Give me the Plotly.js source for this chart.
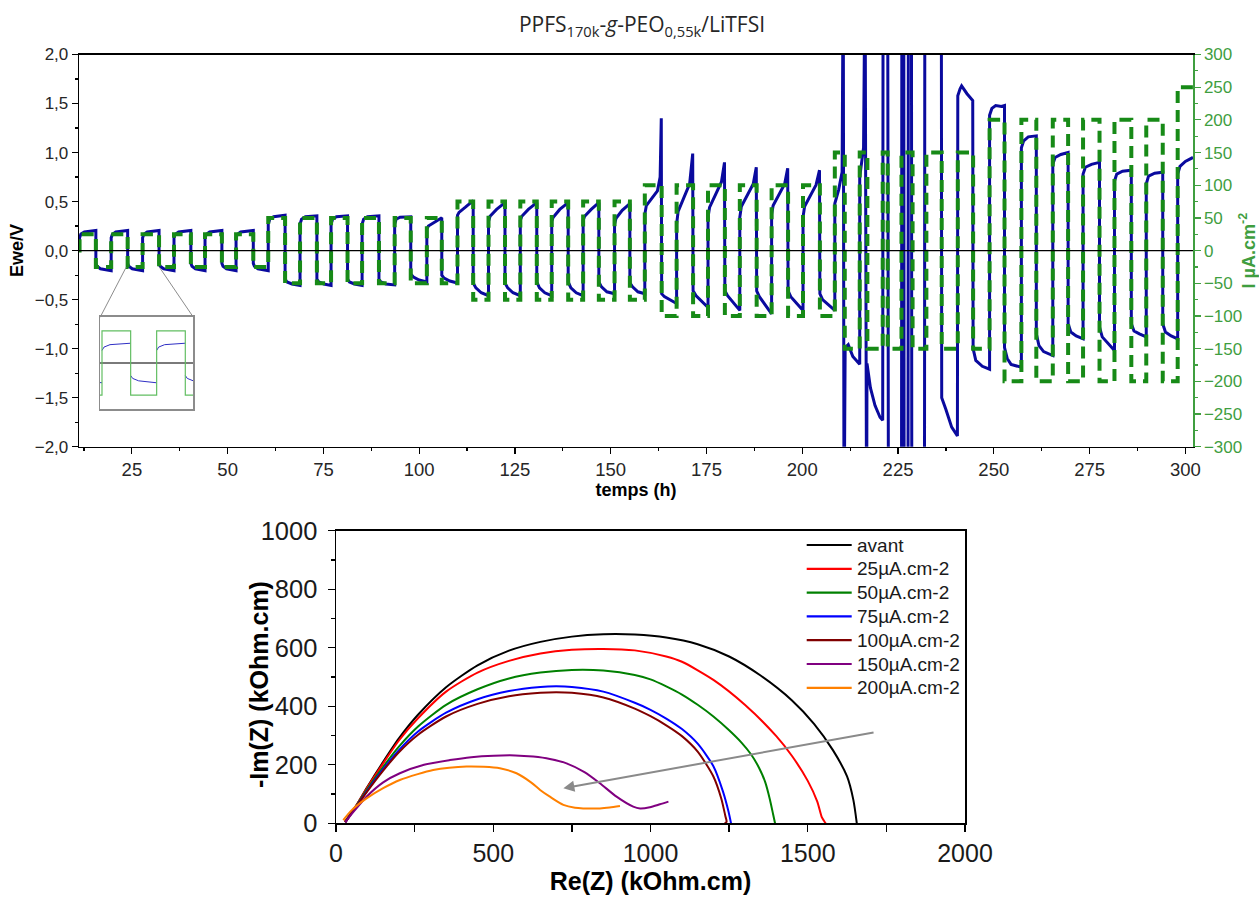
<!DOCTYPE html>
<html><head><meta charset="utf-8">
<script src="https://cdn.plot.ly/plotly-3.0.1.min.js"></script>
<style>html,body{margin:0;padding:0;background:#fff}</style>
</head><body><div id="chart" style="width:1259px;height:897px"></div>
<script>
// ---------- Top chart: Ewe (V) vs time (h), blue line ----------
const ewe25 = [
[11.3,0.0],[11.35,0.13],[11.7,0.17],[12.6,0.19],[15.6,0.205],
[15.6,-0.13],[15.9,-0.16],[16.8,-0.185],[19.6,-0.205],
[19.6,0.13],[19.9,0.165],[20.8,0.19],[23.9,0.205],
[23.9,-0.13],[24.2,-0.16],[25.1,-0.185],[27.8,-0.205],
[27.8,0.13],[28.1,0.165],[29.0,0.19],[32.1,0.205],
[32.1,-0.13],[32.4,-0.16],[33.3,-0.185],[36.0,-0.205],
[36.0,0.13],[36.3,0.165],[37.2,0.19],[40.4,0.205],
[40.4,-0.13],[40.7,-0.16],[41.6,-0.185],[44.1,-0.205],
[44.1,0.13],[44.4,0.165],[45.3,0.19],[48.5,0.205],
[48.5,-0.13],[48.8,-0.16],[49.7,-0.185],[52.2,-0.205],
[52.2,0.13],[52.5,0.165],[53.4,0.19],[56.7,0.205],
[56.7,-0.13],[57.0,-0.16],[57.9,-0.185],[60.6,-0.205]
];
const ewe50 = [
[60.6,0.27],[61.0,0.32],[62.0,0.345],[65.0,0.36],
[65.0,-0.29],[65.5,-0.32],[66.8,-0.34],[68.9,-0.355],
[68.9,0.27],[69.3,0.32],[70.3,0.345],[73.3,0.355],
[73.3,-0.29],[73.8,-0.32],[75.1,-0.34],[77.0,-0.355],
[77.0,0.27],[77.4,0.32],[78.4,0.345],[81.3,0.355],
[81.3,-0.29],[81.8,-0.32],[83.1,-0.34],[85.1,-0.355],
[85.1,0.27],[85.5,0.32],[86.5,0.345],[89.5,0.355],
[89.5,-0.29],[90.0,-0.32],[91.3,-0.34],[93.6,-0.35],
[93.6,0.27],[94.0,0.32],[95.0,0.34],[97.8,0.345],
[97.8,-0.24],[98.5,-0.27],[100.0,-0.30],[102.0,-0.32],
[102.0,0.22],[102.4,0.25],[104.0,0.29],[105.9,0.335],
[105.9,-0.25],[106.5,-0.28],[108.0,-0.31],[110.0,-0.33]
];
const ewe75 = [
[110.0,0.36],[110.4,0.39],[112.0,0.44],[114.1,0.51],
[114.1,-0.33],[114.8,-0.38],[116.2,-0.43],[118.1,-0.46],
[118.1,0.30],[118.5,0.35],[120.2,0.42],[122.4,0.49],
[122.4,-0.33],[123.1,-0.38],[124.5,-0.43],[126.4,-0.46],
[126.4,0.31],[126.8,0.35],[128.5,0.42],[130.7,0.49],
[130.7,-0.32],[131.4,-0.38],[132.8,-0.43],[134.6,-0.46],
[134.6,0.30],[135.0,0.34],[136.7,0.42],[138.9,0.49],
[138.9,-0.32],[139.6,-0.38],[141.0,-0.43],[142.8,-0.46],
[142.8,0.31],[143.2,0.35],[144.9,0.42],[146.9,0.49],
[146.9,-0.32],[147.6,-0.37],[149.0,-0.42],[151.0,-0.44],
[151.0,0.27],[151.4,0.33],[153.0,0.41],[155.0,0.48],
[155.0,-0.33],[155.7,-0.37],[157.1,-0.42],[158.9,-0.44]
];
const ewe100 = [
[158.9,0.37],[159.3,0.46],[162.2,0.61],[162.9,0.75],[163.2,1.35],
[163.3,-0.44],[164.0,-0.47],[167.2,-0.54],
[167.2,0.27],[167.6,0.40],[170.6,0.68],[171.4,0.99],
[171.5,-0.41],[172.3,-0.46],[175.4,-0.58],
[175.4,0.34],[175.8,0.44],[178.9,0.70],[179.7,0.90],
[179.8,-0.41],[180.5,-0.46],[183.7,-0.61],
[183.7,0.34],[184.1,0.45],[187.2,0.68],[188.0,0.85],
[188.1,-0.41],[188.8,-0.47],[192.0,-0.645],
[192.0,0.37],[192.4,0.46],[195.4,0.68],[196.2,0.84],
[196.3,-0.41],[197.0,-0.47],[200.2,-0.61],
[200.2,0.34],[200.6,0.45],[203.6,0.67],[204.5,0.82],
[204.6,-0.44],[205.3,-0.50],[208.5,-0.61]
];
const ewe150 = [
[208.5,0.48],[209.5,0.62],[210.4,0.80],[210.7,3],[210.9,-3],[211.2,-0.99],[212.0,-0.96],[213.2,-1.08],[215.0,-1.16],
[215.0,0.75],[216.0,1.05],[216.4,3],[216.8,-3],[216.9,-1.15],[217.8,-1.40],[219.0,-1.58],[220.3,-1.70],[221.0,-1.73],
[221.1,3],[222.3,3],[222.5,-3],[225.9,-3],[226.0,3],[226.5,3],[226.6,-3],[227.6,-3],[227.7,3],[228.5,3],[228.6,-3],
[231.9,-3],[232.0,3],[236.3,3],[236.4,-1.50],[237.5,-1.62],[239.0,-1.80],[240.5,-1.89],
[240.6,1.58],[241.2,1.65],[241.6,1.68],[243.0,1.60],[244.5,1.53],
[244.6,-1.0],[245.3,-1.12],[247.0,-1.18],[248.9,-1.21]
];
const ewe200 = [
[248.9,1.38],[249.5,1.45],[250.5,1.48],[252.0,1.47],[252.8,1.48],
[252.8,-0.99],[253.5,-1.10],[254.5,-1.16],[257.2,-1.19],
[257.2,1.05],[257.8,1.12],[259.0,1.16],[261.1,1.17],
[261.1,-0.85],[261.8,-0.97],[263.0,-1.03],[265.4,-1.07],
[265.4,0.88],[266.0,0.95],[267.5,0.98],[269.4,1.00],
[269.4,-0.745],[270.1,-0.83],[271.5,-0.87],[273.3,-0.90],
[273.3,0.78],[273.9,0.85],[275.5,0.88],[277.6,0.90],
[277.6,-0.78],[278.3,-0.88],[279.8,-0.95],[281.5,-1.02],
[281.5,0.71],[282.1,0.78],[283.6,0.81],[285.9,0.82],
[285.9,-0.745],[286.6,-0.82],[288.0,-0.85],[289.8,-0.88],
[289.8,0.68],[290.4,0.76],[292.0,0.79],[294.1,0.80],
[294.1,-0.745],[294.8,-0.83],[296.3,-0.87],[298.0,-0.90],
[298.0,0.78],[298.6,0.86],[300.0,0.91],[302.0,0.95]
];

// ---------- Top chart: applied current (µA.cm-2), green steps ----------
const curT = [11.2,11.35,15.6,19.6,23.9,27.8,32.1,36.0,40.4,44.1,48.5,52.2,56.7,
  60.6,65.0,68.9,73.3,77.0,81.3,85.1,89.5,93.6,97.8,102.0,105.9,
  110.0,114.1,118.1,122.4,126.4,130.7,134.6,138.9,142.8,146.9,151.0,155.0,
  158.9,163.3,167.2,171.5,175.4,179.8,183.7,188.1,192.0,196.3,200.2,204.6,
  208.5,211.1,215.0,217.0,221.0,222.3,225.9,228.8,232.4,236.4,240.6,244.6,
  248.9,252.8,257.2,261.1,265.4,269.4,273.3,277.6,281.5,285.9,289.8,294.1,
  298.0,302.0];
const curI = [0,25,-25,25,-25,25,-25,25,-25,25,-25,25,-25,
  50,-50,50,-50,50,-50,50,-50,50,-50,50,-50,
  75,-75,75,-75,75,-75,75,-75,75,-75,75,-75,
  100,-100,100,-100,100,-100,100,-100,100,-100,100,-100,
  150,-150,150,-150,150,-150,150,-150,150,-150,150,-150,
  200,-200,200,-200,200,-200,200,-200,200,-200,200,-200,
  250,250];

// ---------- Bottom chart: Nyquist plots ----------
const seriesNames = ['avant','25µA.cm-2','50µA.cm-2','75µA.cm-2','100µA.cm-2','150µA.cm-2','200µA.cm-2'];
const seriesColors = ['#000000','#ff0000','#008000','#0000ff','#800000','#800080','#ff8000'];
const avantX = [28,45,65,100,150,200,260,350,450,550,650,750,850,950,1050,1150,1250,1350,1450,1520,1580,1625,1645,1656];
const avantY = [5,30,62,125,210,290,370,465,540,590,620,638,646,645,635,612,570,505,420,340,250,160,80,0];
const c25X = [28,45,65,100,150,200,260,350,450,550,650,750,850,950,1050,1100,1200,1300,1400,1450,1500,1530,1545,1552,1557];
const c25Y = [5,30,62,123,205,283,358,450,515,555,580,593,596,591,570,552,490,405,298,230,145,75,20,8,0];
const c50X = [30,45,65,100,150,200,260,350,450,550,650,750,850,950,1000,1050,1100,1150,1200,1250,1290,1320,1345,1365,1380,1390,1396];
const c50Y = [5,30,60,118,193,262,330,405,458,495,515,524,522,507,492,468,440,405,365,318,275,235,190,140,80,30,0];
const c75X = [30,45,65,100,150,200,260,350,450,550,650,700,750,850,950,1000,1050,1100,1150,1200,1230,1248,1256];
const c75Y = [3,28,58,113,185,250,313,378,424,452,466,468,466,450,412,388,358,322,272,195,110,40,0];
const c100X = [30,45,65,100,150,200,260,350,450,550,650,700,750,850,950,1000,1050,1100,1150,1200,1225,1238,1242,1236];
const c100Y = [3,28,57,110,180,243,302,365,408,434,446,448,446,430,392,366,335,298,245,160,85,25,5,0];
const c150X = [30,60,97,150,203,280,362,430,502,570,627,680,733,790,839,892,945,967,998,1030,1057];
const c150Y = [5,45,91,140,171,200,216,226,231,232,228,220,205,175,137,91,57,51,55,65,74];
const c200X = [23,50,97,150,203,260,309,360,415,470,521,574,620,649,680,723,760,786,839,870,903];
const c200Y = [11,45,85,120,148,168,182,190,194,193,188,171,140,114,91,63,53,51,51,54,59];

// ---------- build ----------
const ewe = [].concat(ewe25, ewe50, ewe75, ewe100, ewe150, ewe200);
const eweT = ewe.map(p => p[0]);
const eweV = ewe.map(p => p[1]);

// inset: same data, with the vertical jumps left out
const insT = [], insV = [];
for (let i = 0; i < ewe.length; i++) {
  if (ewe[i][0] < 15 || ewe[i][0] > 37) continue;
  if (i > 0 && ewe[i][0] === ewe[i-1][0] && insT.length) { insT.push(null); insV.push(null); }
  insT.push(ewe[i][0]); insV.push(ewe[i][1]);
}

const W = 1259, H = 897;
const px = v => v / W, py = v => 1 - v / H;

const BLUE = '#0a0a9e', GREEN = '#178a17', GREENAX = '#3f9e3f';
const FAM = 'Liberation Sans, Arial, sans-serif';
const tickFont = {family: FAM, size: 17, color: '#262626'};

const traces = [
  {x: eweT, y: eweV, xaxis: 'x', yaxis: 'y', mode: 'lines', showlegend: false,
   line: {color: BLUE, width: 3}},
  {x: curT, y: curI, xaxis: 'x', yaxis: 'y2', mode: 'lines', showlegend: false,
   line: {color: GREEN, width: 4, dash: '12px,7px', shape: 'hv'}},
  // inset
  {x: insT, y: insV, xaxis: 'x3', yaxis: 'y4', mode: 'lines', showlegend: false, connectgaps: false,
   line: {color: '#2f2fc4', width: 1}},
  {x: curT, y: curI, xaxis: 'x3', yaxis: 'y5', mode: 'lines', showlegend: false,
   line: {color: '#62be62', width: 1.2, shape: 'hv'}}
];
const nyX = [avantX, c25X, c50X, c75X, c100X, c150X, c200X];
const nyY = [avantY, c25Y, c50Y, c75Y, c100Y, c150Y, c200Y];
for (let k = 0; k < seriesNames.length; k++) {
  traces.push({x: nyX[k], y: nyY[k], xaxis: 'x2', yaxis: 'y3', mode: 'lines', name: seriesNames[k],
    showlegend: false, line: {color: seriesColors[k], width: 2, shape: 'spline', smoothing: 0.7}});
}

// legend of the bottom chart (line sample + label for each series)
const shapes = [
  {type: 'line', xref: 'x domain', yref: 'y', x0: 0, x1: 1, y0: 0, y1: 0, layer: 'above',
   line: {color: '#000', width: 1.2}},
  {type: 'line', xref: 'x', yref: 'y', x0: 23.5, y0: -0.17, x1: 16.72, y1: -0.68,
   line: {color: '#8c8c8c', width: 1}},
  {type: 'line', xref: 'x', yref: 'y', x0: 32.2, y0: -0.17, x1: 41.06, y1: -0.68,
   line: {color: '#8c8c8c', width: 1}}
];
const annotations = [
  {xref: 'x2', yref: 'y3', axref: 'x2', ayref: 'y3', x: 723, y: 120, ax: 1714, ay: 311,
   text: '', showarrow: true, arrowhead: 2, arrowsize: 1.1, arrowwidth: 2, arrowcolor: '#8a8a8a'},
  {xref: 'paper', yref: 'paper', x: px(259), y: py(685), text: '<b>-Im(Z) (kOhm.cm)</b>', textangle: -90,
   showarrow: false, xanchor: 'center', yanchor: 'middle', font: {family: FAM, size: 25, color: '#000'}}
];
for (let k = 0; k < seriesNames.length; k++) {
  const yy = py(545 + k * 23.8);
  shapes.push({type: 'line', xref: 'paper', yref: 'paper', x0: px(806.7), x1: px(851.7), y0: yy, y1: yy,
    line: {color: seriesColors[k], width: 2.2}});
  annotations.push({xref: 'paper', yref: 'paper', x: px(855), y: yy, text: seriesNames[k], showarrow: false,
    xanchor: 'left', yanchor: 'middle', font: {family: FAM, size: 19, color: '#1a1a1a'}});
}

const layout = {
  width: W, height: H,
  margin: {l: 0, r: 0, t: 0, b: 0},
  paper_bgcolor: '#fff', plot_bgcolor: 'rgba(0,0,0,0)',
  separators: ', ',
  showlegend: false,
  title: {text: 'PPFS<sub>170k</sub>-<i>g</i>-PEO<sub>0,55k</sub>/LiTFSI',
    font: {family: 'Open Sans, sans-serif', size: 21, color: '#262626'},
    x: px(642), xanchor: 'center', y: py(25), yanchor: 'middle'},
  xaxis: {domain: [px(79), px(1193)], range: [11.2, 302], anchor: 'y',
    showgrid: false, zeroline: false, showline: true, linecolor: '#000', linewidth: 1.3, mirror: true,
    ticks: 'outside', ticklen: 6, tickwidth: 1.2, tickcolor: '#000', tick0: 0, dtick: 25,
    minor: {dtick: 12.5, ticks: 'outside', ticklen: 3, tickcolor: '#000'},
    tickfont: {family: FAM, size: 18.5, color: '#262626'},
    title: {text: 'temps (h)', standoff: 4, font: {family: FAM, size: 18, color: '#000', weight: 'bold'}}},
  yaxis: {domain: [py(446.7), py(54.5)], range: [-2, 2], anchor: 'x',
    showgrid: false, zeroline: false, showline: true, linecolor: '#000', linewidth: 1.3,
    ticks: 'outside', ticklen: 6, tickwidth: 1.2, tickcolor: '#000', dtick: 0.5, tickformat: '.1f',
    minor: {dtick: 0.25, ticks: 'outside', ticklen: 3, tickcolor: '#000'},
    tickfont: tickFont,
    title: {text: 'Ewe/V', standoff: 6, font: {family: FAM, size: 18, color: '#000', weight: 'bold'}}},
  yaxis2: {overlaying: 'y', side: 'right', anchor: 'x', range: [-300, 300],
    showgrid: false, zeroline: false, showline: true, linecolor: GREENAX, linewidth: 1.5,
    ticks: 'outside', ticklen: 6, tickwidth: 1.2, tickcolor: GREENAX, dtick: 50,
    minor: {dtick: 25, ticks: 'outside', ticklen: 3, tickcolor: GREENAX},
    tickfont: {family: FAM, size: 17, color: GREENAX},
    title: {text: 'I µA.cm<sup>-2</sup>', standoff: 2, font: {family: FAM, size: 18, color: GREENAX, weight: 'bold'}}},
  xaxis2: {domain: [px(336), px(965)], range: [0, 2000], anchor: 'y3',
    showgrid: false, zeroline: false, showline: true, linecolor: '#000', linewidth: 1.5, mirror: true,
    ticks: 'outside', ticklen: 7, tickwidth: 1.3, tickcolor: '#000', dtick: 500,
    minor: {dtick: 250, ticks: 'outside', ticklen: 7, tickcolor: '#000'},
    tickfont: {family: FAM, size: 25, color: '#1a1a1a'},
    title: {text: 'Re(Z) (kOhm.cm)', standoff: 6, font: {family: FAM, size: 25, color: '#000', weight: 'bold'}}},
  yaxis3: {domain: [py(823.3), py(530.7)], range: [0, 1000], anchor: 'x2',
    showgrid: false, zeroline: false, showline: true, linecolor: '#000', linewidth: 1.5, mirror: true,
    ticks: 'outside', ticklen: 7, tickwidth: 1.3, tickcolor: '#000', dtick: 200,
    minor: {dtick: 100, ticks: 'outside', ticklen: 4, tickcolor: '#000'},
    ticklabelstandoff: 5,
    tickfont: {family: FAM, size: 25.5, color: '#1a1a1a'}},
  // inset axes
  xaxis3: {domain: [px(100), px(193.3)], range: [19.3, 33.3], anchor: 'y4',
    showgrid: false, zeroline: false, showline: true, mirror: true, linecolor: '#8c8c8c', linewidth: 1.5,
    ticks: '', showticklabels: false},
  yaxis4: {domain: [py(409.3), py(316.7)], range: [-0.48, 0.48], anchor: 'x3',
    showgrid: false, zeroline: true, zerolinecolor: '#7a7a7a', zerolinewidth: 1.3,
    showline: true, mirror: true, linecolor: '#8c8c8c', linewidth: 1.5, ticks: '', showticklabels: false},
  yaxis5: {overlaying: 'y4', anchor: 'x3', range: [-36, 36], showgrid: false, zeroline: false,
    showline: false, ticks: '', showticklabels: false},
  shapes: shapes,
  annotations: annotations
};

Plotly.newPlot('chart', traces, layout, {staticPlot: true, displayModeBar: false});
</script></body></html>
